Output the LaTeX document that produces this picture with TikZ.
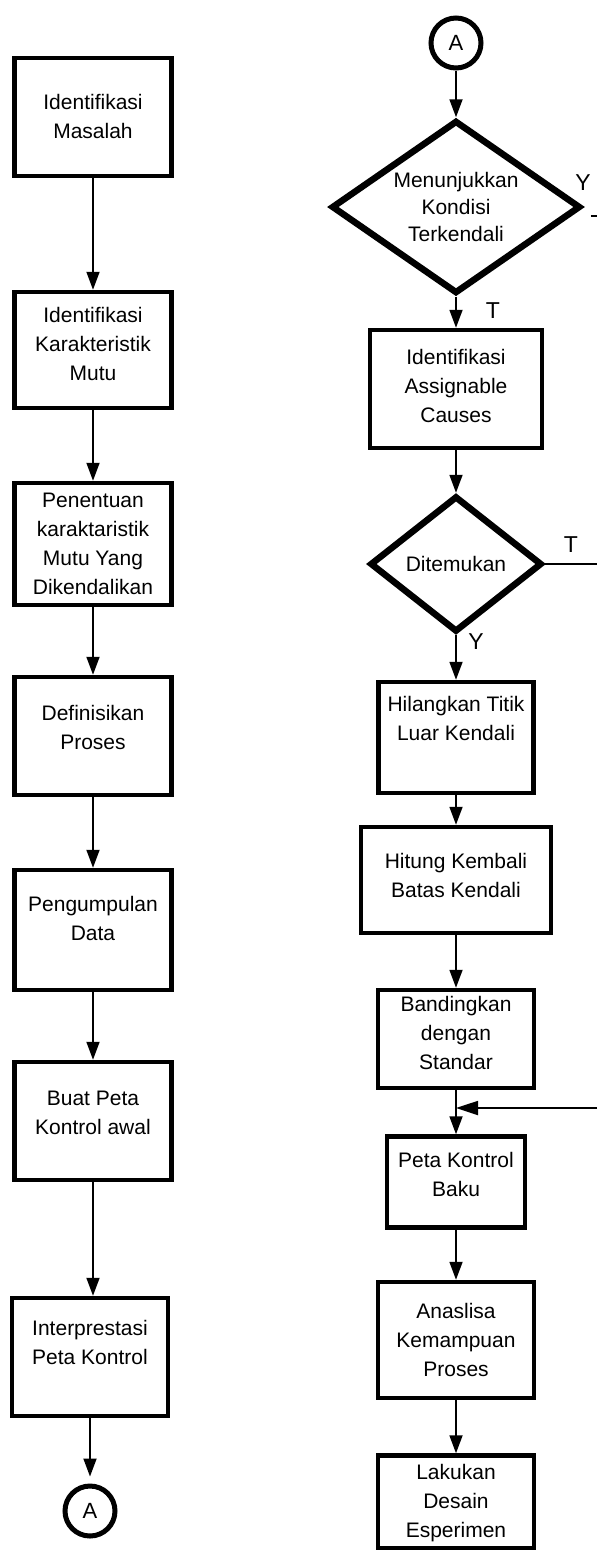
\documentclass[tikz,border=0pt]{standalone}
\usepackage{fontspec}
\setmainfont{Liberation Sans}
\usetikzlibrary{shapes.geometric,arrows.meta,calc}
\begin{document}
\begin{tikzpicture}[x=1pt,y=-1pt,
  box/.style={draw, rectangle, line width=4.5pt, inner sep=0pt},
  lbl/.style={font=\fontsize{21}{29}\selectfont, align=center, inner sep=0pt},
  dia/.style={draw, diamond, line width=6.5pt, inner sep=0pt, align=center, font=\fontsize{21}{27}\selectfont},
  conn/.style={line width=1.8pt, -{Triangle[width=13pt,length=18pt]}},
  plain/.style={line width=1.8pt},
  yt/.style={font=\fontsize{23}{23}\selectfont, inner sep=0pt},
  conA/.style={draw, circle, line width=5pt, minimum size=50pt, inner sep=0pt, font=\fontsize{22}{22}\selectfont}
]
\useasboundingbox (0,0) rectangle (597,1550);
\fill[white] (0,0) rectangle (597,1550);

% ---------- left column ----------
\node[box, minimum width=157pt, minimum height=118pt, label={[lbl,yshift=1pt]center:{Identifikasi\\Masalah}}] (b1) at (93,117) {};
\node[box, minimum width=157pt, minimum height=116pt, label={[lbl,yshift=6pt]center:{Identifikasi\\Karakteristik\\Mutu}}] (b2) at (93,350) {};
\node[box, minimum width=157pt, minimum height=122pt, label={[lbl,yshift=0pt]center:{Penentuan\\karaktaristik\\Mutu Yang\\Dikendalikan}}] (b3) at (93,544) {};
\node[box, minimum width=157pt, minimum height=118pt, label={[lbl,yshift=9pt]center:{Definisikan\\Proses}}] (b4) at (93,736) {};
\node[box, minimum width=157pt, minimum height=120pt, label={[lbl,yshift=12pt]center:{Pengumpulan\\Data}}] (b5) at (93,930) {};
\node[box, minimum width=157pt, minimum height=118pt, label={[lbl,yshift=8pt]center:{Buat Peta\\Kontrol awal}}] (b6) at (93,1121) {};
\node[box, minimum width=156pt, minimum height=118pt, label={[lbl,yshift=15pt]center:{Interprestasi\\Peta Kontrol}}] (b7) at (90,1357) {};
\node[conA] (ca1) at (90,1511) {A};

\draw[conn] (b1.south) -- (b2.north);
\draw[conn] (b2.south) -- (b3.north);
\draw[conn] (b3.south) -- (b4.north);
\draw[conn] (b4.south) -- (b5.north);
\draw[conn] (b5.south) -- (b6.north);
\draw[conn] (b6.south) -- (b6.south |- b7.north);
\draw[conn, shorten >=7pt] (b7.south) -- (ca1.north);

% ---------- right column ----------
\node[conA] (ca2) at (456,43) {A};
\node[dia, minimum width=249pt, minimum height=173pt, aspect=1.44] (d1) at (456,207) {Menunjukkan\\Kondisi\\Terkendali};
\node[box, minimum width=172pt, minimum height=118pt, label={[lbl,yshift=3pt]center:{Identifikasi\\Assignable\\Causes}}] (iac) at (456,389) {};
\node[dia, minimum width=172pt, minimum height=136pt, aspect=1.26] (d2) at (456,564) {Ditemukan};
\node[box, minimum width=155pt, minimum height=111pt, label={[lbl,yshift=19pt]center:{Hilangkan Titik\\Luar Kendali}}] (htlk) at (456,737.5) {};
\node[box, minimum width=190pt, minimum height=106pt, label={[lbl,yshift=5pt]center:{Hitung Kembali\\Batas Kendali}}] (hkbk) at (456,880) {};
\node[box, minimum width=156pt, minimum height=98pt, label={[lbl,yshift=6pt]center:{Bandingkan\\dengan\\Standar}}] (bds) at (456,1039) {};
\node[box, minimum width=138pt, minimum height=91pt, label={[lbl,yshift=8pt]center:{Peta Kontrol\\Baku}}] (pkb) at (456,1182) {};
\node[box, minimum width=156pt, minimum height=116pt, label={[lbl]center:{Anaslisa\\Kemampuan\\Proses}}] (akp) at (456,1340) {};
\node[box, minimum width=156pt, minimum height=93pt, label={[lbl,yshift=-1pt]center:{Lakukan\\Desain\\Esperimen}}] (lds) at (456,1502) {};

\coordinate (yout) at (597,216);
\coordinate (tout) at (597,564);
\coordinate (fb) at (597,1108);
\coordinate (j) at (456,1108);

\draw[conn] (ca2.south) -- (d1.north);
\draw[conn] (d1.south) -- (iac.north);
\draw[conn] (iac.south) -- (d2.north);
\draw[conn] (d2.south) -- (htlk.north);
\draw[conn] (htlk.south) -- (hkbk.north);
\draw[conn] (hkbk.south) -- (bds.north);
\draw[conn] (bds.south) -- (pkb.north);
\draw[line width=1.8pt, -{Triangle[width=14pt,length=22pt]}] (fb) -- (j);
\draw[conn] (pkb.south) -- (akp.north);
\draw[conn] (akp.south) -- (lds.north);
\draw[plain] ($(d1.east)+(7,9)$) -- (yout);
\draw[plain] (d2.east) -- (tout);

\node[yt] (ly1) at (583,183) {Y};
\node[yt] (lt1) at (493,311) {T};
\node[yt] (lt2) at (571,545) {T};
\node[yt] (ly2) at (476,642) {Y};
\end{tikzpicture}
\end{document}
